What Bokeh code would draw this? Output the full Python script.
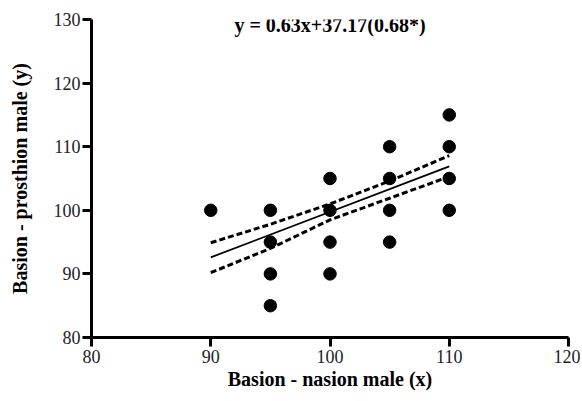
from bokeh.plotting import figure
from bokeh.models import Label, Range1d, FixedTicker
from bokeh.embed import file_html
from bokeh.resources import INLINE

# Data
pts_x = [90, 95, 95, 95, 95, 100, 100, 100, 100, 105, 105, 105, 105, 110, 110, 110, 110]
pts_y = [100, 100, 95, 90, 85, 105, 100, 95, 90, 110, 105, 100, 95, 115, 110, 105, 100]

fit_x = [90, 110]
fit_y = [92.6, 106.9]

band_x = [90, 95, 100, 105, 110]
band_upper = [94.9, 97.8, 101.0, 104.6, 108.6]
band_lower = [90.2, 94.0, 98.5, 101.9, 105.3]

x_ticks = [80, 90, 100, 110, 120]
y_ticks = [80, 90, 100, 110, 120, 130]
title_text = "y = 0.63x+37.17(0.68*)"

FONT = "Liberation Serif"

p = figure(width=580, height=395, output_backend="svg", toolbar_location=None,
           x_range=Range1d(80, 120), y_range=Range1d(80, 130),
           min_border_left=91, min_border_right=12, min_border_top=19, min_border_bottom=58)
p.outline_line_color = None
p.grid.visible = False
p.background_fill_color = "white"

p.line(band_x, band_upper, line_color="black", line_width=3, line_dash="6 3")
p.line(band_x, band_lower, line_color="black", line_width=3, line_dash="6 3")
p.line(fit_x, fit_y, line_color="black", line_width=1.8)
p.scatter(pts_x, pts_y, size=12.5, color="black")

for ax in (p.xaxis[0], p.yaxis[0]):
    ax.axis_line_width = 3
    ax.axis_line_color = "black"
    ax.major_tick_line_width = 3
    ax.major_tick_line_color = "black"
    ax.major_tick_out = 9
    ax.major_tick_in = 0
    ax.minor_tick_line_color = None
    ax.major_label_text_font = FONT
    ax.major_label_text_font_size = "18px"
    ax.major_label_text_color = "#222222"
    ax.axis_label_text_font = FONT
    ax.axis_label_text_font_size = "20px"
    ax.axis_label_text_font_style = "bold"
    ax.axis_label_text_color = "black"

p.xaxis[0].ticker = FixedTicker(ticks=x_ticks)
p.yaxis[0].ticker = FixedTicker(ticks=y_ticks)
p.xaxis[0].axis_label = "Basion - nasion male (x)"
p.yaxis[0].axis_label = "Basion - prosthion male (y)"
p.xaxis[0].major_label_standoff = 3
p.yaxis[0].major_label_standoff = 2
p.xaxis[0].axis_label_standoff = 2
p.yaxis[0].axis_label_standoff = 20

p.add_layout(Label(x=100, y=129.2, text=title_text, text_align="center",
                   text_baseline="middle", text_font=FONT, text_font_size="20px",
                   text_font_style="bold", text_color="black"))

open("out.html", "w").write(file_html(p, INLINE))
